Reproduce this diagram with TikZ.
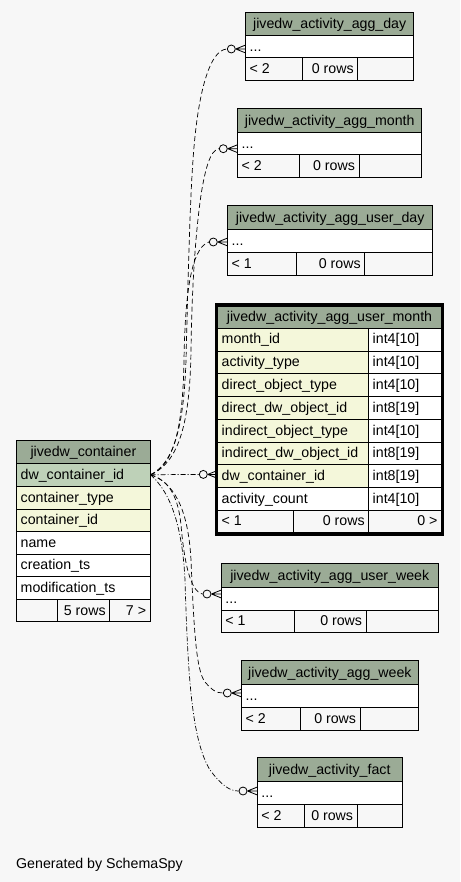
\documentclass[tikz,border=0pt]{standalone}
\usepackage{fontspec}
\setmainfont{Liberation Sans}
\definecolor{bg}{HTML}{F7F7F7}
\definecolor{hdr}{HTML}{9BAB96}
\definecolor{pk}{HTML}{BED1B8}
\definecolor{fk}{HTML}{F4F7DA}
\newcommand\Cell[8]{%
  \pgfmathsetmacro\cellw{#4-#2}%
  \pgfmathsetmacro\celltw{#4-#2-8}%
  \pgfmathsetmacro\cellh{#5-#3}%
  \node[cell,fill=#6,#7,minimum width=\cellw pt,text width=\celltw pt,minimum height=\cellh pt] (#1) at (#2,#3) {#8};}
\begin{document}
\begin{tikzpicture}[x=1pt,y=-1pt,
  cell/.style={draw=black,line width=0.8pt,anchor=north west,inner xsep=4pt,inner ysep=0pt,
    text height=11pt,text depth=2pt,font=\fontsize{14.2}{16}\selectfont},
  alL/.style={align=flush left}, alR/.style={align=flush right}, alC/.style={align=flush center},
  rel/.style={line width=0.7pt,dash pattern=on 5pt off 3pt},
  reldot/.style={line width=0.7pt,dash pattern=on 5pt off 2pt on 1pt off 2pt},
  zero/.style={circle,draw=black,fill=bg,line width=0.8pt,minimum size=8pt,inner sep=0pt},
  foot/.style={line width=0.8pt}]
\useasboundingbox (0,0) rectangle (460,882);
\fill[bg] (0,0) rectangle (460,882);

% jivedw_activity_agg_day
\Cell{day-h}{245.3}{11.7}{413.3}{35.3}{hdr}{alC}{jivedw\_activity\_agg\_day}
\Cell{day-r}{245.3}{35.3}{413.3}{57.3}{white}{alL}{...}
\Cell{day-f1}{245.3}{57.3}{301.7}{80.3}{bg}{alL}{< 2}
\Cell{day-f2}{301.7}{57.3}{357.3}{80.3}{bg}{alR}{0 rows}
\Cell{day-f3}{357.3}{57.3}{413.3}{80.3}{bg}{alR}{}

% jivedw_activity_agg_month
\Cell{month-h}{237.3}{108.3}{421.3}{132.3}{hdr}{alC}{jivedw\_activity\_agg\_month}
\Cell{month-r}{237.3}{132.3}{421.3}{154.5}{white}{alL}{...}
\Cell{month-f1}{237.3}{154.5}{298.5}{177.3}{bg}{alL}{< 2}
\Cell{month-f2}{298.5}{154.5}{358.5}{177.3}{bg}{alR}{0 rows}
\Cell{month-f3}{358.5}{154.5}{421.3}{177.3}{bg}{alR}{}

% jivedw_activity_agg_user_day
\Cell{uday-h}{227.3}{205.3}{432.3}{229.3}{hdr}{alC}{jivedw\_activity\_agg\_user\_day}
\Cell{uday-r}{227.3}{229.3}{432.3}{252.3}{white}{alL}{...}
\Cell{uday-f1}{227.3}{252.3}{296.3}{275.3}{bg}{alL}{< 1}
\Cell{uday-f2}{296.3}{252.3}{364.3}{275.3}{bg}{alR}{0 rows}
\Cell{uday-f3}{364.3}{252.3}{432.3}{275.3}{bg}{alR}{}

% jivedw_activity_agg_user_month
\Cell{um-h}{217.3}{306}{441}{327.5}{hdr}{alC}{jivedw\_activity\_agg\_user\_month}
\Cell{um-n1}{217.3}{327.5}{368.3}{350.5}{fk}{alL}{month\_id}
\Cell{um-t1}{368.3}{327.5}{441}{350.5}{white}{alL}{int4[10]}
\Cell{um-n2}{217.3}{350.5}{368.3}{373.3}{fk}{alL}{activity\_type}
\Cell{um-t2}{368.3}{350.5}{441}{373.3}{white}{alL}{int4[10]}
\Cell{um-n3}{217.3}{373.3}{368.3}{396}{fk}{alL}{direct\_object\_type}
\Cell{um-t3}{368.3}{373.3}{441}{396}{white}{alL}{int4[10]}
\Cell{um-n4}{217.3}{396}{368.3}{418.7}{fk}{alL}{direct\_dw\_object\_id}
\Cell{um-t4}{368.3}{396}{441}{418.7}{white}{alL}{int8[19]}
\Cell{um-n5}{217.3}{418.7}{368.3}{441.5}{fk}{alL}{indirect\_object\_type}
\Cell{um-t5}{368.3}{418.7}{441}{441.5}{white}{alL}{int4[10]}
\Cell{um-n6}{217.3}{441.5}{368.3}{464.2}{fk}{alL}{indirect\_dw\_object\_id}
\Cell{um-t6}{368.3}{441.5}{441}{464.2}{white}{alL}{int8[19]}
\Cell{um-n7}{217.3}{464.2}{368.3}{487}{fk}{alL}{dw\_container\_id}
\Cell{um-t7}{368.3}{464.2}{441}{487}{white}{alL}{int8[19]}
\Cell{um-n8}{217.3}{487}{368.3}{509.6}{white}{alL}{activity\_count}
\Cell{um-t8}{368.3}{487}{441}{509.6}{white}{alL}{int4[10]}
\Cell{um-f1}{217.3}{509.6}{293.3}{532.3}{bg}{alL}{< 1}
\Cell{um-f2}{293.3}{509.6}{368.3}{532.3}{bg}{alR}{0 rows}
\Cell{um-f3}{368.3}{509.6}{441}{532.3}{bg}{alR}{0 >}
\draw[line width=3pt] (216,304.6) rectangle (442.3,534.6);

% jivedw_container
\Cell{cont-h}{16.3}{440.3}{149.7}{463}{hdr}{alC}{jivedw\_container}
\Cell{cont-dw}{16.3}{463}{149.7}{485.7}{pk}{alL}{dw\_container\_id}
\Cell{cont-type}{16.3}{485.7}{149.7}{508.7}{fk}{alL}{container\_type}
\Cell{cont-cid}{16.3}{508.7}{149.7}{531.3}{fk}{alL}{container\_id}
\Cell{cont-name}{16.3}{531.3}{149.7}{553.7}{white}{alL}{name}
\Cell{cont-cts}{16.3}{553.7}{149.7}{576.3}{white}{alL}{creation\_ts}
\Cell{cont-mts}{16.3}{576.3}{149.7}{599}{white}{alL}{modification\_ts}
\Cell{cont-f1}{16.3}{599}{57.3}{621.3}{bg}{alL}{}
\Cell{cont-f2}{57.3}{599}{109.3}{621.3}{bg}{alR}{5 rows}
\Cell{cont-f3}{109.3}{599}{149.7}{621.3}{bg}{alR}{7 >}

% jivedw_activity_agg_user_week
\Cell{uweek-h}{221}{563.3}{437.7}{587.3}{hdr}{alC}{jivedw\_activity\_agg\_user\_week}
\Cell{uweek-r}{221}{587.3}{437.7}{609.7}{white}{alL}{...}
\Cell{uweek-f1}{221}{609.7}{293.7}{632.3}{bg}{alL}{< 1}
\Cell{uweek-f2}{293.7}{609.7}{365.7}{632.3}{bg}{alR}{0 rows}
\Cell{uweek-f3}{365.7}{609.7}{437.7}{632.3}{bg}{alR}{}

% jivedw_activity_agg_week
\Cell{week-h}{241.3}{660.3}{417.7}{684.3}{hdr}{alC}{jivedw\_activity\_agg\_week}
\Cell{week-r}{241.3}{684.3}{417.7}{707}{white}{alL}{...}
\Cell{week-f1}{241.3}{707}{300.3}{730}{bg}{alL}{< 2}
\Cell{week-f2}{300.3}{707}{359.7}{730}{bg}{alR}{0 rows}
\Cell{week-f3}{359.7}{707}{417.7}{730}{bg}{alR}{}

% jivedw_activity_fact
\Cell{fact-h}{257}{757.3}{401.7}{781.3}{hdr}{alC}{jivedw\_activity\_fact}
\Cell{fact-r}{257}{781.3}{401.7}{804}{white}{alL}{...}
\Cell{fact-f1}{257}{804}{304.3}{827.3}{bg}{alL}{< 2}
\Cell{fact-f2}{304.3}{804}{356.7}{827.3}{bg}{alR}{0 rows}
\Cell{fact-f3}{356.7}{804}{401.7}{827.3}{bg}{alR}{}

% zero-or-many ends
\node[zero] (c-day) at (231.3,49) {};
\node[zero] (c-month) at (223.3,148.7) {};
\node[zero] (c-uday) at (213.3,242) {};
\node[zero] (c-umonth) at (203.3,474.4) {};
\node[zero] (c-uweek) at (207,594) {};
\node[zero] (c-week) at (227.3,693) {};
\node[zero] (c-fact) at (243,791) {};
\foreach \c/\r in {c-day/day-r,c-month/month-r,c-uday/uday-r,c-umonth/um-n7,c-uweek/uweek-r,c-week/week-r,c-fact/fact-r}{
  \draw[foot] (\c.east) -- (\c.east -| \r.west) (\c.east) -- ++(10,-4) (\c.east) -- ++(10,4);
}

% connectors
\draw[rel] (cont-dw.east) .. controls (176,462) and (184,420) .. (186,360) .. controls (188,280) and (190,200) .. (193,160) .. controls (197,100) and (208,50) .. (c-day.west);
\draw[rel] (cont-dw.east) .. controls (180,462) and (190,420) .. (191,350) .. controls (192,280) and (196,230) .. (201,195) .. controls (205,170) and (210,150) .. (c-month.west);
\draw[rel] (cont-dw.east) .. controls (176,465) and (183,420) .. (184,360) .. controls (185,300) and (190,248) .. (c-uday.west);
\draw[reldot] (cont-dw.east) -- (c-umonth.west);
\draw[rel] (cont-dw.east) .. controls (168,480) and (178,495) .. (181,525) .. controls (184,560) and (190,592) .. (c-uweek.west);
\draw[rel] (cont-dw.east) .. controls (172,482) and (188,505) .. (191,560) .. controls (194,630) and (196,670) .. (205,682) .. controls (212,690) and (216,693) .. (c-week.west);
\draw[reldot] (cont-dw.east) .. controls (168,490) and (182,520) .. (185,580) .. controls (188,680) and (192,740) .. (210,770) .. controls (222,786) and (230,791) .. (c-fact.west);

\node[anchor=base west,inner sep=0pt,font=\fontsize{14.2}{16}\selectfont] (gen) at (16,868) {Generated by SchemaSpy};
\end{tikzpicture}
\end{document}
